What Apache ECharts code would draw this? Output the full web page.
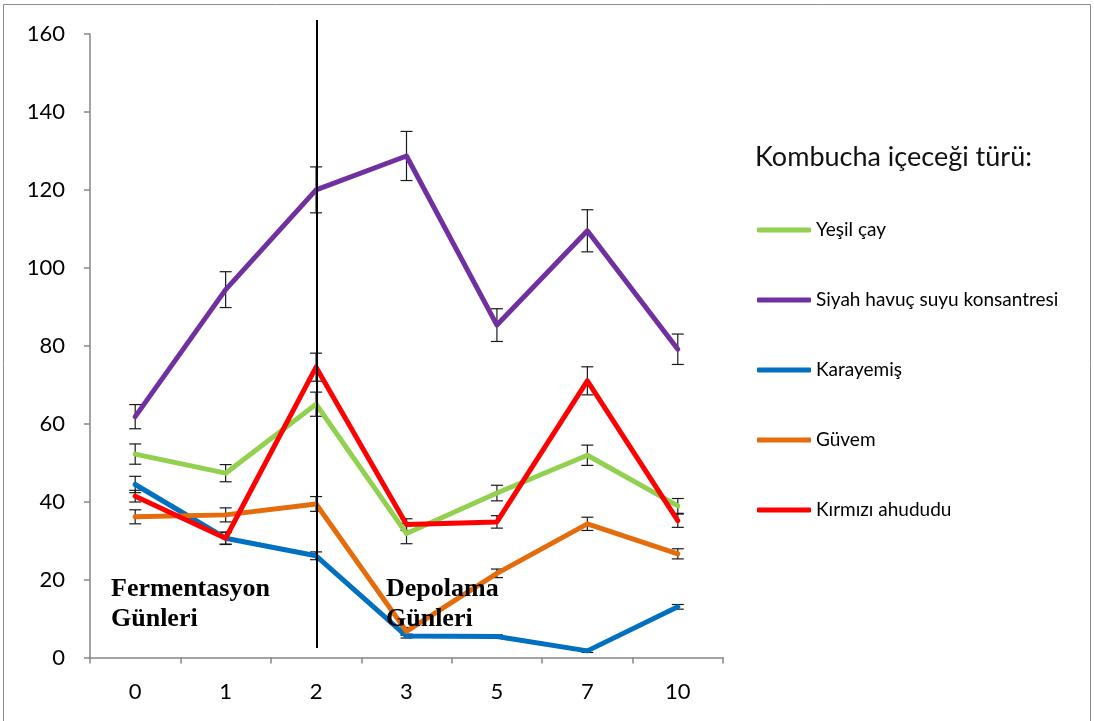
<!DOCTYPE html>
<html>
<head>
<meta charset="utf-8">
<script src="https://cdn.jsdelivr.net/npm/echarts@6/dist/echarts.min.js"></script>
<style>
  html, body { margin: 0; padding: 0; background: #fff; }
  #chart { width: 1094px; height: 721px; }
</style>
</head>
<body>
<div id="chart"></div>
<script>
// Days of fermentation / storage
const days = ['0', '1', '2', '3', '5', '7', '10'];

// Mean values per kombucha type
const yesilCay = [52.2, 47.3, 65.0, 31.8, 42.2, 51.9, 38.9];
const siyahHavuc = [61.8, 94.4, 120.0, 128.7, 85.3, 109.5, 79.1];
const karayemis = [44.4, 30.6, 26.1, 5.5, 5.4, 1.7, 13.0];
const guvem = [36.1, 36.6, 39.4, 6.7, 21.6, 34.3, 26.6];
const kirmiziAhududu = [41.4, 30.6, 74.5, 34.1, 34.8, 71.0, 35.1];

// Standard deviations (error bars)
const yesilCayErr = [2.6, 2.2, 3.1, 2.6, 2.0, 2.6, 1.9];
const siyahHavucErr = [3.1, 4.6, 5.9, 6.3, 4.2, 5.4, 3.9];
const karayemisErr = [2.1, 1.5, 1.0, 0.5, 0.4, 0.4, 0.6];
const guvemErr = [1.8, 1.8, 1.9, 1.0, 1.1, 1.7, 1.3];
const kirmiziAhududuErr = [1.5, 1.6, 3.6, 1.5, 1.6, 3.6, 1.7];

const yTicks = { min: 0, max: 160, interval: 20 };

const seriesDefs = [
  { name: 'Yeşil çay', values: yesilCay, errors: yesilCayErr, color: '#92D050' },
  { name: 'Siyah havuç suyu konsantresi', values: siyahHavuc, errors: siyahHavucErr, color: '#7030A0' },
  { name: 'Karayemiş', values: karayemis, errors: karayemisErr, color: '#0070C0' },
  { name: 'Güvem', values: guvem, errors: guvemErr, color: '#E46C0A' },
  { name: 'Kırmızı ahududu', values: kirmiziAhududu, errors: kirmiziAhududuErr, color: '#FF0000' }
];

const chart = echarts.init(document.getElementById('chart'), null, { renderer: 'canvas' });

function errorBarRenderer(params, api) {
  const idx = api.value(0);
  const mean = api.value(1);
  const err = api.value(2);
  const top = api.coord([idx, mean + err]);
  const bottom = api.coord([idx, mean - err]);
  const half = 6;
  const style = { stroke: '#1a1a1a', lineWidth: 1.2 };
  return {
    type: 'group',
    children: [
      { type: 'line', shape: { x1: top[0], y1: top[1], x2: bottom[0], y2: bottom[1] }, style: style },
      { type: 'line', shape: { x1: top[0] - half, y1: top[1], x2: top[0] + half, y2: top[1] }, style: style },
      { type: 'line', shape: { x1: bottom[0] - half, y1: bottom[1], x2: bottom[0] + half, y2: bottom[1] }, style: style }
    ]
  };
}

const series = [];
seriesDefs.forEach(function (s) {
  series.push({
    name: s.name + ' (hata)',
    type: 'custom',
    renderItem: errorBarRenderer,
    data: s.values.map(function (v, i) { return [i, v, s.errors[i]]; }),
    z: 1,
    silent: true
  });
});
seriesDefs.forEach(function (s) {
  series.push({
    name: s.name,
    type: 'line',
    data: s.values,
    symbol: 'none',
    color: s.color,
    lineStyle: { width: 5, color: s.color, cap: 'round', join: 'round' },
    z: 3
  });
});

const option = {
  backgroundColor: '#ffffff',
  animation: false,
  textStyle: { fontFamily: 'Lato' },
  grid: { left: 90, right: 371, top: 34, bottom: 63.5, containLabel: false },
  xAxis: {
    type: 'category',
    data: days,
    boundaryGap: true,
    axisLine: { lineStyle: { color: '#868686', width: 1.5 } },
    axisTick: { show: true, length: 6, inside: false, lineStyle: { color: '#868686', width: 1.5 } },
    axisLabel: { color: '#000', fontSize: 22, fontFamily: 'Lato', margin: 23 },
    splitLine: { show: false }
  },
  yAxis: {
    type: 'value',
    min: yTicks.min,
    max: yTicks.max,
    interval: yTicks.interval,
    axisLine: { show: true, lineStyle: { color: '#868686', width: 1.5 } },
    axisTick: { show: true, length: 6, lineStyle: { color: '#868686', width: 1.5 } },
    axisLabel: { color: '#000', fontSize: 22, fontFamily: 'Lato', margin: 25 },
    splitLine: { show: false }
  },
  title: {
    text: 'Kombucha içeceği türü:',
    left: 750,
    top: 139,
    textStyle: { fontFamily: 'Lato', fontWeight: 'normal', fontSize: 27, color: '#111' }
  },
  legend: {
    orient: 'vertical',
    left: 752,
    top: 215,
    data: seriesDefs.map(function (s) { return s.name; }),
    icon: 'roundRect',
    itemWidth: 54,
    itemHeight: 5,
    itemGap: 50,
    textStyle: { fontFamily: 'Lato', fontSize: 19, color: '#000', lineHeight: 20 },
    selectedMode: false
  },
  graphic: [
    {
      type: 'rect',
      shape: { x: 3.5, y: 4.5, width: 1087, height: 740 },
      style: { fill: 'none', stroke: '#8c8c8c', lineWidth: 1 },
      z: 0
    },
    {
      type: 'line',
      shape: { x1: 317, y1: 20, x2: 317, y2: 648 },
      style: { stroke: '#000', lineWidth: 2 },
      z: 10
    },
    {
      type: 'text',
      left: 111,
      top: 574,
      style: {
        text: 'Fermentasyon\nGünleri',
        font: 'bold 26px "Liberation Serif"',
        fill: '#000',
        lineHeight: 30
      },
      z: 10
    },
    {
      type: 'text',
      left: 386,
      top: 574,
      style: {
        text: 'Depolama\nGünleri',
        font: 'bold 26px "Liberation Serif"',
        fill: '#000',
        lineHeight: 30
      },
      z: 10
    }
  ],
  series: series
};

chart.setOption(option);
</script>
</body>
</html>
